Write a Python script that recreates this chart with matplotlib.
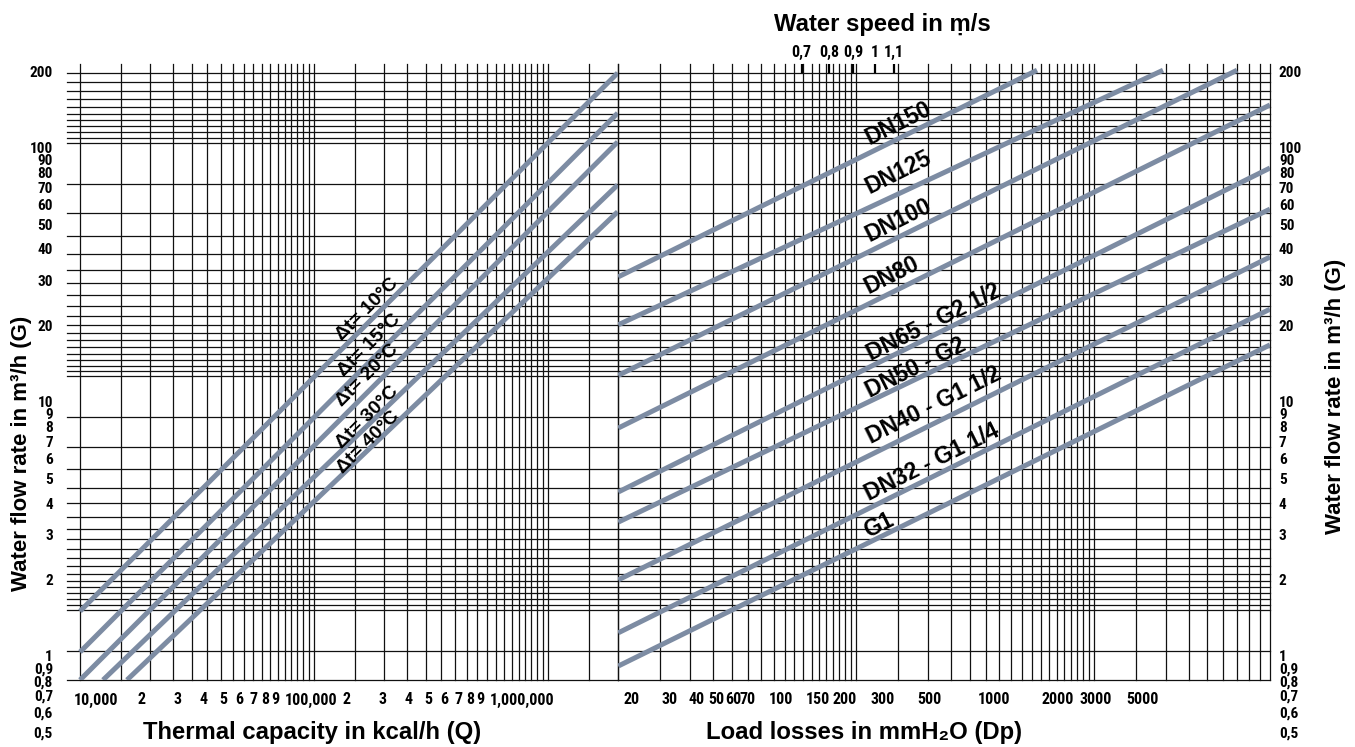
import matplotlib.pyplot as plt
from matplotlib import transforms
from matplotlib import font_manager as fm
from matplotlib.ticker import NullLocator

W, H = 1355, 747

# --- tick labels ---
g_ticks = [200, 100, 90, 80, 70, 60, 50, 40, 30, 20, 10, 9, 8, 7, 6, 5, 4, 3, 2, 1,
           0.9, 0.8, 0.7, 0.6, 0.5]
g_tick_labels = ['200', '100', '90', '80', '70', '60', '50', '40', '30', '20', '10',
                 '9', '8', '7', '6', '5', '4', '3', '2', '1',
                 '0,9', '0,8', '0,7', '0,6', '0,5']

q_ticks = [1e4, 2e4, 3e4, 4e4, 5e4, 6e4, 7e4, 8e4, 9e4,
           1e5, 2e5, 3e5, 4e5, 5e5, 6e5, 7e5, 8e5, 9e5, 1e6]
q_tick_labels = ['10,000', '2', '3', '4', '5', '6', '7', '8', '9',
                 '100,000', '2', '3', '4', '5', '6', '7', '8', '9', '1,000,000']

dp_ticks = [20, 30, 40, 50, 60, 70, 100, 150, 200, 300, 500, 1000, 2000, 3000, 5000]
dp_tick_labels = ['20', '30', '40', '50', '60', '70', '100', '150', '200', '300',
                  '500', '1000', '2000', '3000', '5000']

speed_ticks = [0.7, 0.8, 0.9, 1.0, 1.1]
speed_tick_labels = ['0,7', '0,8', '0,9', '1', '1,1']

# axis ranges as printed (bottom/left edge to top/right edge)
q_lim = (8640, 4.23e6)
dp_lim = (17.25, 19770)
g_lim = (0.815, 216.9)
speed_lim = (0.2867, 6.86)

# printed grid of the nomogram, in its own log units
grid_x_left = [1, 1.5, 2, 2.5, 3, 3.5, 4, 4.5, 5, 5.5, 6, 6.5, 7, 7.5, 8, 8.5, 9, 9.5,
               10, 15, 20, 25, 30, 35, 40, 45, 50, 55, 60, 65, 70, 75, 80, 85, 90, 95,
               100, 150, 200]
grid_x_right = [1, 1.5, 2, 2.5, 3, 3.5, 4, 4.5, 5, 5.5, 6, 6.5, 7, 7.5, 8, 8.5, 9, 9.5,
                10, 15, 20, 25, 30, 35, 40, 45, 50, 55, 60, 65, 70, 75, 80, 85, 90, 95,
                100, 150, 200, 250, 300, 350, 400, 450, 500, 550]
grid_y = [0.5, 0.55, 0.6, 0.65, 0.7, 0.75, 0.8, 0.85, 0.9, 0.95,
          1, 1.5, 2, 2.5, 3, 3.5, 4, 4.5, 5, 5.5, 6, 6.5, 7, 7.5, 8, 8.5, 9, 9.5,
          10, 15, 20, 25, 30, 35, 40, 45, 50, 55, 60, 65, 70, 75, 80, 85, 90, 95,
          100, 150, 200]
grid_x_left_lim = (0.88, 200)
grid_x_right_lim = (1, 550)
grid_y_lim = (200, 0.459)

# delta-t lines: thermal capacity Q (kcal/h) -> flow G (m3/h)
dt_names = ['Δt= 10°C', 'Δt= 15°C', 'Δt= 20°C', 'Δt= 30°C', 'Δt= 40°C']
dt_q0 = [10000, 10000, 10000, 12950, 16950]
dt_g0 = [1.52, 1.05, 0.815, 0.815, 0.815]
dt_q1 = [4.2e6, 4.2e6, 4.2e6, 4.2e6, 4.2e6]
dt_g1 = [200, 139, 107, 72.5, 56.8]
dt_lab_q = [251000, 257000, 251000, 251000, 254000]
dt_lab_g = [23.4, 16.9, 12.9, 8.85, 7.0]

# pipe lines: load loss Dp (mmH2O) -> flow G (m3/h)
dn_names = ['DN150', 'DN125', 'DN100', 'DN80', 'DN65 - G2 1/2', 'DN50 - G2',
            'DN40 - G1 1/2', 'DN32 - G1 1/4', 'G1']
dn_p0 = [17.25, 17.25, 17.25, 17.25, 17.25, 17.25, 17.25, 17.25, 17.25]
dn_g0 = [31.5, 20.4, 12.9, 8.0, 4.48, 3.41, 2.02, 1.25, 0.925]
dn_p1 = [1594, 6222, 13840, 19770, 19770, 19770, 19770, 19770, 19770]
dn_g1 = [205, 205, 205, 149.6, 84.5, 58.2, 37.7, 23.5, 17.0]
dn_lab_p = [355, 355, 355, 332, 523, 431, 523, 512, 289]
dn_lab_g = [127, 81.5, 52.8, 32.0, 20.9, 13.8, 9.86, 5.88, 3.32]

line_color = '#7d8ca3'
grid_color = '#111111'

plt.rcParams['font.family'] = ['Liberation Sans', 'DejaVu Sans']
plt.rcParams['font.weight'] = 'bold'


def narrow_font(size):
    # the scale numbers are printed in a condensed bold face
    prefs = ['Liberation Sans Narrow', 'Roboto Condensed', 'DejaVu Sans', 'Noto Sans',
             'Open Sans']
    best = None
    for f in fm.fontManager.ttflist:
        cond = f.stretch in ('condensed', 'semi-condensed', 'extra-condensed') \
            or 'Narrow' in f.name or 'Condensed' in f.name
        if not cond or f.style != 'normal':
            continue
        w = f.weight if isinstance(f.weight, int) else (700 if 'bold' in str(f.weight) else 400)
        if w < 600:
            continue
        rank = prefs.index(f.name) if f.name in prefs else len(prefs)
        if best is None or rank < best[0]:
            best = (rank, f.fname)
    if best is None:
        return fm.FontProperties(family='Liberation Sans', weight='bold', size=size - 1)
    return fm.FontProperties(fname=best[1], size=size)


fig = plt.figure(figsize=(W / 100, H / 100), dpi=100)


def add_box(x0, x1, y0, y1):
    # box given in pixels from the top-left corner of the figure
    return fig.add_axes([x0 / W, 1 - y1 / H, (x1 - x0) / W, (y1 - y0) / H])


# ---- printed grid ----
for box, xs, xlim in (((67, 618.3, 64, 680), grid_x_left, grid_x_left_lim),
                      ((618.3, 1270, 64, 680), grid_x_right, grid_x_right_lim)):
    ag = add_box(*box)
    ag.set_xscale('log')
    ag.set_yscale('log')
    ag.set_xlim(xlim)
    ag.set_ylim(grid_y_lim)
    for v in xs:
        ag.axvline(v, color=grid_color, lw=0.9, clip_on=False)
    for v in grid_y:
        ag.axhline(v, color=grid_color, lw=0.9, clip_on=False)
    ag.axis('off')

# ---- left panel: thermal capacity ----
dl = add_box(67, 618.3, 64, 680)
dl.set_xscale('log')
dl.set_yscale('log')
dl.set_xlim(q_lim)
dl.set_ylim(g_lim)
dl.patch.set_visible(False)
for s in dl.spines.values():
    s.set_visible(False)

for q0, g0, q1, g1 in zip(dt_q0, dt_g0, dt_q1, dt_g1):
    dl.plot([q0, q1], [g0, g1], color=line_color, lw=3.6, solid_capstyle='butt')
for name, q, g in zip(dt_names, dt_lab_q, dt_lab_g):
    dl.text(q, g, name, rotation=45, rotation_mode='anchor', ha='center', va='center',
            fontsize=14, fontweight='bold')

dl.set_xticks(q_ticks, q_tick_labels)
dl.xaxis.set_minor_locator(NullLocator())
dl.set_yticks([])
dl.yaxis.set_minor_locator(NullLocator())
dl.tick_params(axis='x', length=0, pad=9)
shift_left = transforms.ScaledTranslation(-6 / 100, 0, fig.dpi_scale_trans)
for lbl in dl.get_xticklabels():
    lbl.set_fontproperties(narrow_font(11.5))
    if len(lbl.get_text()) > 1:
        lbl.set_ha('left')
    if lbl.get_text() == '10,000':
        lbl.set_transform(lbl.get_transform() + shift_left)

tl = transforms.blended_transform_factory(dl.transAxes, dl.transData)
for v, s in zip(g_ticks, g_tick_labels):
    dl.text(-0.0254, v, s, transform=tl, ha='right', va='center',
            fontproperties=narrow_font(11), clip_on=False)

# ---- right panel: load losses ----
dr = add_box(618.3, 1270, 64, 680)
dr.set_xscale('log')
dr.set_yscale('log')
dr.set_xlim(dp_lim)
dr.set_ylim(g_lim)
dr.patch.set_visible(False)
for s in dr.spines.values():
    s.set_visible(False)

for p0, g0, p1, g1 in zip(dn_p0, dn_g0, dn_p1, dn_g1):
    dr.plot([p0, p1], [g0, g1], color=line_color, lw=3.6, solid_capstyle='butt')
for name, p, g in zip(dn_names, dn_lab_p, dn_lab_g):
    dr.text(p, g, name, rotation=26.5, rotation_mode='anchor', ha='center', va='center',
            fontsize=16.5, fontweight='bold')

dr.set_xticks(dp_ticks, dp_tick_labels)
dr.xaxis.set_minor_locator(NullLocator())
dr.set_yticks([])
dr.yaxis.set_minor_locator(NullLocator())
dr.tick_params(axis='x', length=0, pad=9)
for lbl in dr.get_xticklabels():
    lbl.set_fontproperties(narrow_font(11.5))

tr = transforms.blended_transform_factory(dr.transAxes, dr.transData)
for v, s in zip(g_ticks, g_tick_labels):
    dr.text(1.0138, v, s, transform=tr, ha='left', va='center',
            fontproperties=narrow_font(11), clip_on=False)

# water speed scale on top
ds = dr.twiny()
ds.set_xscale('log')
ds.set_xlim(speed_lim)
ds.set_xticks(speed_ticks, speed_tick_labels)
ds.xaxis.set_minor_locator(NullLocator())
ds.tick_params(axis='x', direction='in', length=6.5, width=1.6, pad=3, color='black')
for lbl in ds.get_xticklabels():
    lbl.set_fontproperties(narrow_font(11.5))
for s in ds.spines.values():
    s.set_visible(False)

# ---- axis titles ----
fig.text(312 / W, 1 - 733 / H, 'Thermal capacity in kcal/h (Q)', ha='center', va='center',
         fontsize=17.2, fontweight='bold')
fig.text(864 / W, 1 - 733 / H, 'Load losses in mmH₂O (Dp)', ha='center', va='center',
         fontsize=17.2, fontweight='bold')
fig.text(882 / W, 1 - 25 / H, 'Water speed in ṃ/s', ha='center', va='center',
         fontsize=17.2, fontweight='bold')
fig.text(22 / W, 1 - 453 / H, 'Water flow rate in m³/h (G)', rotation=90, ha='center',
         va='center', fontsize=16, fontweight='bold')
fig.text(1335 / W, 1 - 396 / H, 'Water flow rate in m³/h (G)', rotation=90, ha='center',
         va='center', fontsize=16, fontweight='bold')

fig.savefig('out.png', dpi=100)
